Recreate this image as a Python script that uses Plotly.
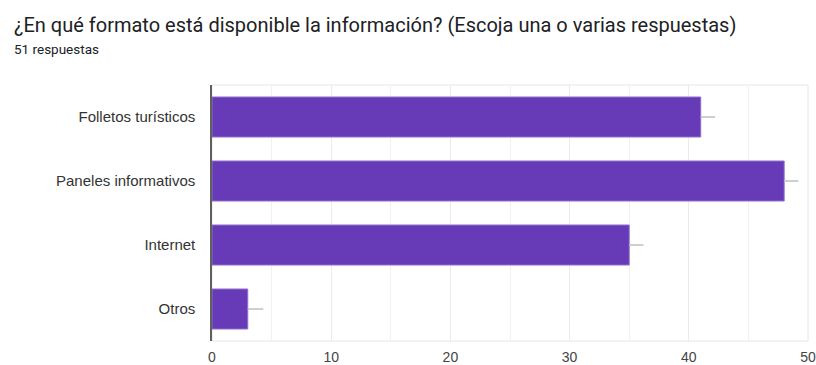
import plotly.graph_objects as go

categories = ["Folletos turísticos", "Paneles informativos", "Internet", "Otros"]
counts = [41, 48, 35, 3]
whisker = [1.2, 1.2, 1.2, 1.3]
x_ticks = [0, 10, 20, 30, 40, 50]

title_text = "¿En qué formato está disponible la información? (Escoja una o varias respuestas)"
subtitle_text = "51 respuestas"

fig = go.Figure()
fig.add_trace(go.Bar(
    y=categories,
    x=counts,
    orientation="h",
    marker=dict(color="#673ab7", line=dict(color="#8f6fcc", width=1)),
    error_x=dict(type="data", symmetric=False, array=whisker,
                 arrayminus=[0] * len(counts), color="#c4c4c4",
                 thickness=1.6, width=0),
    hoverinfo="skip",
))

fig.update_layout(
    width=816, height=365,
    margin=dict(l=212, r=8, t=85, b=24),
    paper_bgcolor="white", plot_bgcolor="white",
    bargap=0.375,
    showlegend=False,
    font=dict(family="Liberation Sans, Arial, sans-serif", color="#333333"),
    shapes=[dict(type="rect", xref="paper", yref="paper", x0=0, x1=1, y0=0, y1=1,
                 line=dict(color="#e6e6e6", width=1), layer="below")],
    annotations=[
        dict(text=title_text, xref="paper", yref="paper",
             x=(12 - 212) / 596, y=1 + (85 - 25) / 256,
             xanchor="left", yanchor="middle", showarrow=False,
             font=dict(family="Roboto, sans-serif", size=20, color="#202124")),
        dict(text=subtitle_text, xref="paper", yref="paper",
             x=(12 - 212) / 596, y=1 + (85 - 49) / 256,
             xanchor="left", yanchor="middle", showarrow=False,
             font=dict(family="Roboto, sans-serif", size=13.5, color="#202124")),
    ],
)

fig.update_xaxes(
    range=[0, 50], tickvals=x_ticks, ticktext=[str(v) for v in x_ticks],
    showgrid=True, gridcolor="#ebebeb", gridwidth=1,
    minor=dict(dtick=5, showgrid=True, gridcolor="#f1f1f1", gridwidth=1),
    zeroline=False, showline=False, ticks="",
    tickfont=dict(size=14, color="#444444"),
    ticklabelstandoff=6, fixedrange=True, automargin=False,
)
fig.update_yaxes(
    categoryorder="array", categoryarray=categories, autorange="reversed",
    showgrid=False, zeroline=False,
    showline=True, linecolor="#5f5f5f", linewidth=1.5,
    ticks="", tickfont=dict(size=15, color="#333333"),
    ticklabelstandoff=12, fixedrange=True, automargin=False,
)

fig.write_html("out.html", config={"displayModeBar": False})
